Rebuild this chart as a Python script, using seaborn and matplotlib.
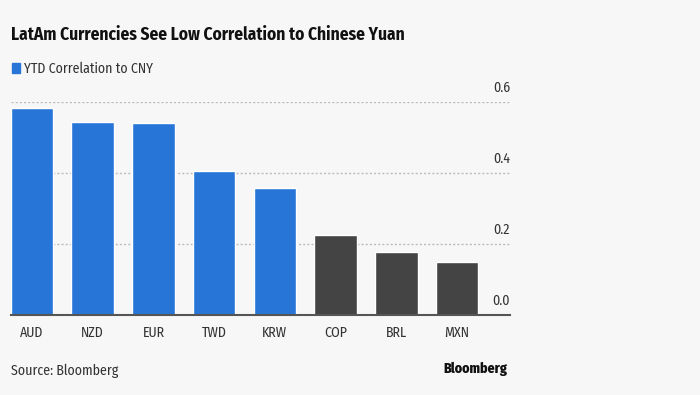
import matplotlib
matplotlib.use("Agg")
import matplotlib.pyplot as plt
import matplotlib.transforms as mtransforms
import seaborn as sns
import pandas as pd

categories = ["AUD", "NZD", "EUR", "TWD", "KRW", "COP", "BRL", "MXN"]
values = [0.581, 0.542, 0.541, 0.404, 0.356, 0.225, 0.176, 0.148]
groups = ["Other", "Other", "Other", "Other", "Other", "LatAm", "LatAm", "LatAm"]
yticks = [0.0, 0.2, 0.4, 0.6]
ytick_labels = ["0.0", "0.2", "0.4", "0.6"]

BLUE = "#2775d6"
DARK = "#444444"
BG = "#f7f7f7"

sns.set_theme(style="white")
plt.rcParams["font.family"] = ["Fira Sans Condensed", "DejaVu Sans"]

df = pd.DataFrame({"cur": categories, "val": values, "grp": groups})
colors = [BLUE if g == "Other" else DARK for g in groups]

fig = plt.figure(figsize=(7.0, 3.95), dpi=100, facecolor=BG)
ax = fig.add_axes([10.7 / 700, 1 - 314.7 / 395, (510 - 10.7) / 700, (314.7 - 101.7) / 395])
ax.set_facecolor(BG)

sns.barplot(data=df, x="cur", y="val", hue="cur", palette=colors, legend=False,
            width=0.7, ax=ax, saturation=1, zorder=3)

ax.set_xlim(-0.35, 7.87)
ax.set_ylim(0, 0.6)
for s in ["top", "right", "left"]:
    ax.spines[s].set_visible(False)
ax.spines["bottom"].set_color("#555555")
ax.spines["bottom"].set_linewidth(1.5)
ax.spines["bottom"].set_zorder(4)

ax.set_yticks([])
for t in yticks[1:]:
    ax.axhline(t, color="#bbbbbb", lw=1.0, ls=(0, (1.5, 1.5)), zorder=1)
trans = mtransforms.blended_transform_factory(ax.transAxes, ax.transData)
offset = mtransforms.ScaledTranslation(0, 5 / 72, fig.dpi_scale_trans)
for t, lab in zip(yticks, ytick_labels):
    ax.text(1.0, t, lab, transform=trans + offset, ha="right", va="bottom",
            fontsize=10, color="#333333")

ax.set_xlabel("")
ax.set_ylabel("")
ax.tick_params(axis="x", length=0, pad=8, labelsize=10, labelcolor="#333333")

fig.text(11 / 700, 1 - 35 / 395, "LatAm Currencies See Low Correlation to Chinese Yuan",
         fontsize=12.5, fontweight="bold", color="#111111", va="center", ha="left")
fig.patches.append(plt.Rectangle((12 / 700, 1 - 73 / 395), 8 / 700, 10 / 395,
                                 transform=fig.transFigure, color=BLUE, figure=fig))
fig.text(24 / 700, 1 - 68.5 / 395, "YTD Correlation to CNY", fontsize=10,
         color="#333333", va="center", ha="left")
fig.text(11 / 700, 1 - 371 / 395, "Source: Bloomberg", fontsize=10,
         color="#333333", va="center", ha="left")
fig.text(507 / 700, 1 - 369 / 395, "Bloomberg", fontsize=10, fontweight="heavy",
         color="#111111", va="center", ha="right")

fig.savefig("out.png", dpi=100, facecolor=BG)
